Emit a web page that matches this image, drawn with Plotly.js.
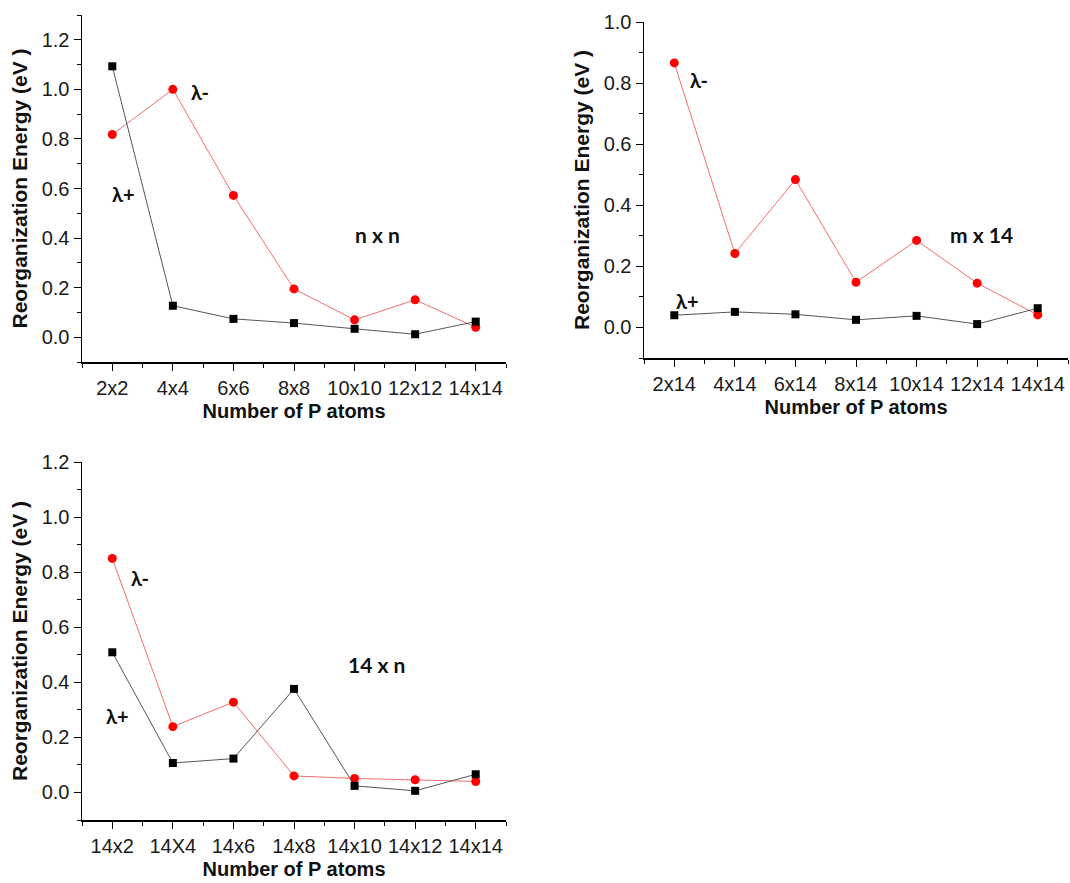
<!DOCTYPE html>
<html>
<head>
<meta charset="utf-8">
<script src="https://cdn.plot.ly/plotly-3.0.1.min.js"></script>
<style>
  html, body { margin: 0; padding: 0; background: #fff; }
  #chart { width: 1070px; height: 883px; }
</style>
</head>
<body>
<div id="chart"></div>
<script>
// ---- Data ----
const catsNxN   = ['2x2', '4x4', '6x6', '8x8', '10x10', '12x12', '14x14'];
const plusNxN   = [1.093, 0.127, 0.074, 0.057, 0.034, 0.012, 0.063];
const minusNxN  = [0.818, 1.000, 0.572, 0.195, 0.070, 0.151, 0.040];

const catsMx14  = ['2x14', '4x14', '6x14', '8x14', '10x14', '12x14', '14x14'];
const plusMx14  = [0.040, 0.051, 0.043, 0.025, 0.038, 0.011, 0.063];
const minusMx14 = [0.866, 0.242, 0.484, 0.148, 0.285, 0.145, 0.041];

const cats14xN  = ['14x2', '14X4', '14x6', '14x8', '14x10', '14x12', '14x14'];
const plus14xN  = [0.509, 0.107, 0.123, 0.376, 0.024, 0.006, 0.066];
const minus14xN = [0.850, 0.239, 0.328, 0.060, 0.051, 0.046, 0.040];

const panelLabels = ['n x n', 'm x 14', '14 x n'];
const xTitle = 'Number of P atoms';
const yTitle = 'Reorganization Energy (eV )';

// ---- Build ----
const idx = a => a.map((_, i) => i);
function pair(cats, plus, minus, xa, ya) {
  return [
    { x: idx(cats), y: minus, xaxis: xa, yaxis: ya, type: 'scatter', mode: 'lines+markers',
      line: { color: '#f26d6d', width: 1 }, marker: { symbol: 'circle', size: 9, color: '#ff0000' },
      cliponaxis: false, showlegend: false, name: 'λ-' },
    { x: idx(cats), y: plus, xaxis: xa, yaxis: ya, type: 'scatter', mode: 'lines+markers',
      line: { color: '#555555', width: 1 }, marker: { symbol: 'square', size: 8, color: '#000000' },
      cliponaxis: false, showlegend: false, name: 'λ+' }
  ];
}

const data = [
  ...pair(catsNxN, plusNxN, minusNxN, 'x', 'y'),
  ...pair(catsMx14, plusMx14, minusMx14, 'x2', 'y2'),
  ...pair(cats14xN, plus14xN, minus14xN, 'x3', 'y3')
];

const tickFont = { family: 'Liberation Sans, Arial, sans-serif', size: 20, color: '#1a1a1a' };
const titleFont = { family: 'Liberation Sans, Arial, sans-serif', size: 21, color: '#111', weight: 'bold' };
const xTitleFont = { family: 'Liberation Sans, Arial, sans-serif', size: 20, color: '#111', weight: 'bold' };

function xAxis(cats, domain, anchor) {
  return {
    domain: domain, anchor: anchor, range: [-0.5, 6.5], fixedrange: true,
    tickmode: 'array', tickvals: idx(cats), ticktext: cats,
    ticks: 'outside', ticklen: 7, tickwidth: 1, tickcolor: '#000',
    minor: { tickmode: 'linear', tick0: -0.5, dtick: 0.5, ticks: 'outside', ticklen: 4, tickwidth: 1, tickcolor: '#000' },
    showline: true, linecolor: '#000', linewidth: 1.5, showgrid: false, zeroline: false,
    tickfont: tickFont,
    title: { text: xTitle, font: xTitleFont, standoff: 6 }
  };
}
function yAxis(range, domain, anchor) {
  return {
    domain: domain, anchor: anchor, range: range, fixedrange: true,
    tickmode: 'linear', tick0: 0, dtick: 0.2, tickformat: '.1f',
    ticks: 'outside', ticklen: 7, tickwidth: 1, tickcolor: '#000',
    minor: { tickmode: 'linear', tick0: 0, dtick: 0.1, ticks: 'outside', ticklen: 4, tickwidth: 1, tickcolor: '#000' },
    showline: true, linecolor: '#000', linewidth: 1.5, showgrid: false, zeroline: false,
    tickfont: tickFont,
    title: { text: yTitle, font: titleFont, standoff: 8 }
  };
}

const W = 1070, H = 883;
const px = (a, b) => [a / W, b / W];
const py = (top, bot) => [1 - bot / H, 1 - top / H];

const lamFont = { family: 'Lato, DejaVu Sans, sans-serif', size: 20, color: '#111', weight: 'bold' };
const lblFont = { family: 'Lato, Open Sans, sans-serif', size: 21, color: '#111', weight: 'bold' };
function ann(text, x, y, xr, yr, font) {
  return { text: text, x: x, y: y, xref: xr, yref: yr, showarrow: false, font: font, xanchor: 'center', yanchor: 'middle' };
}

const layout = {
  width: W, height: H,
  margin: { l: 0, r: 0, t: 0, b: 0 },
  paper_bgcolor: '#fff', plot_bgcolor: '#fff',
  showlegend: false,
  xaxis: xAxis(catsNxN, px(82, 506), 'y'),
  yaxis: yAxis([-0.1, 1.3], py(15, 362), 'x'),
  xaxis2: xAxis(catsMx14, px(644, 1068), 'y2'),
  yaxis2: yAxis([-0.1, 1.0], py(22, 358), 'x2'),
  xaxis3: xAxis(cats14xN, px(82, 506), 'y3'),
  yaxis3: yAxis([-0.1, 1.2], py(462, 820), 'x3'),
  annotations: [
    ann('λ-', 1.44, 0.99, 'x', 'y', lamFont),
    ann('λ+', 0.18, 0.576, 'x', 'y', lamFont),
    ann(panelLabels[0], 4.38, 0.415, 'x', 'y', lblFont),
    ann('λ-', 0.41, 0.81, 'x2', 'y2', lamFont),
    ann('λ+', 0.22, 0.087, 'x2', 'y2', lamFont),
    ann(panelLabels[1], 5.07, 0.304, 'x2', 'y2', lblFont),
    ann('λ-', 0.45, 0.778, 'x3', 'y3', lamFont),
    ann('λ+', 0.09, 0.277, 'x3', 'y3', lamFont),
    ann(panelLabels[2], 4.37, 0.464, 'x3', 'y3', lblFont)
  ]
};

Plotly.newPlot('chart', data, layout, { staticPlot: true, displayModeBar: false });
</script>
</body>
</html>
